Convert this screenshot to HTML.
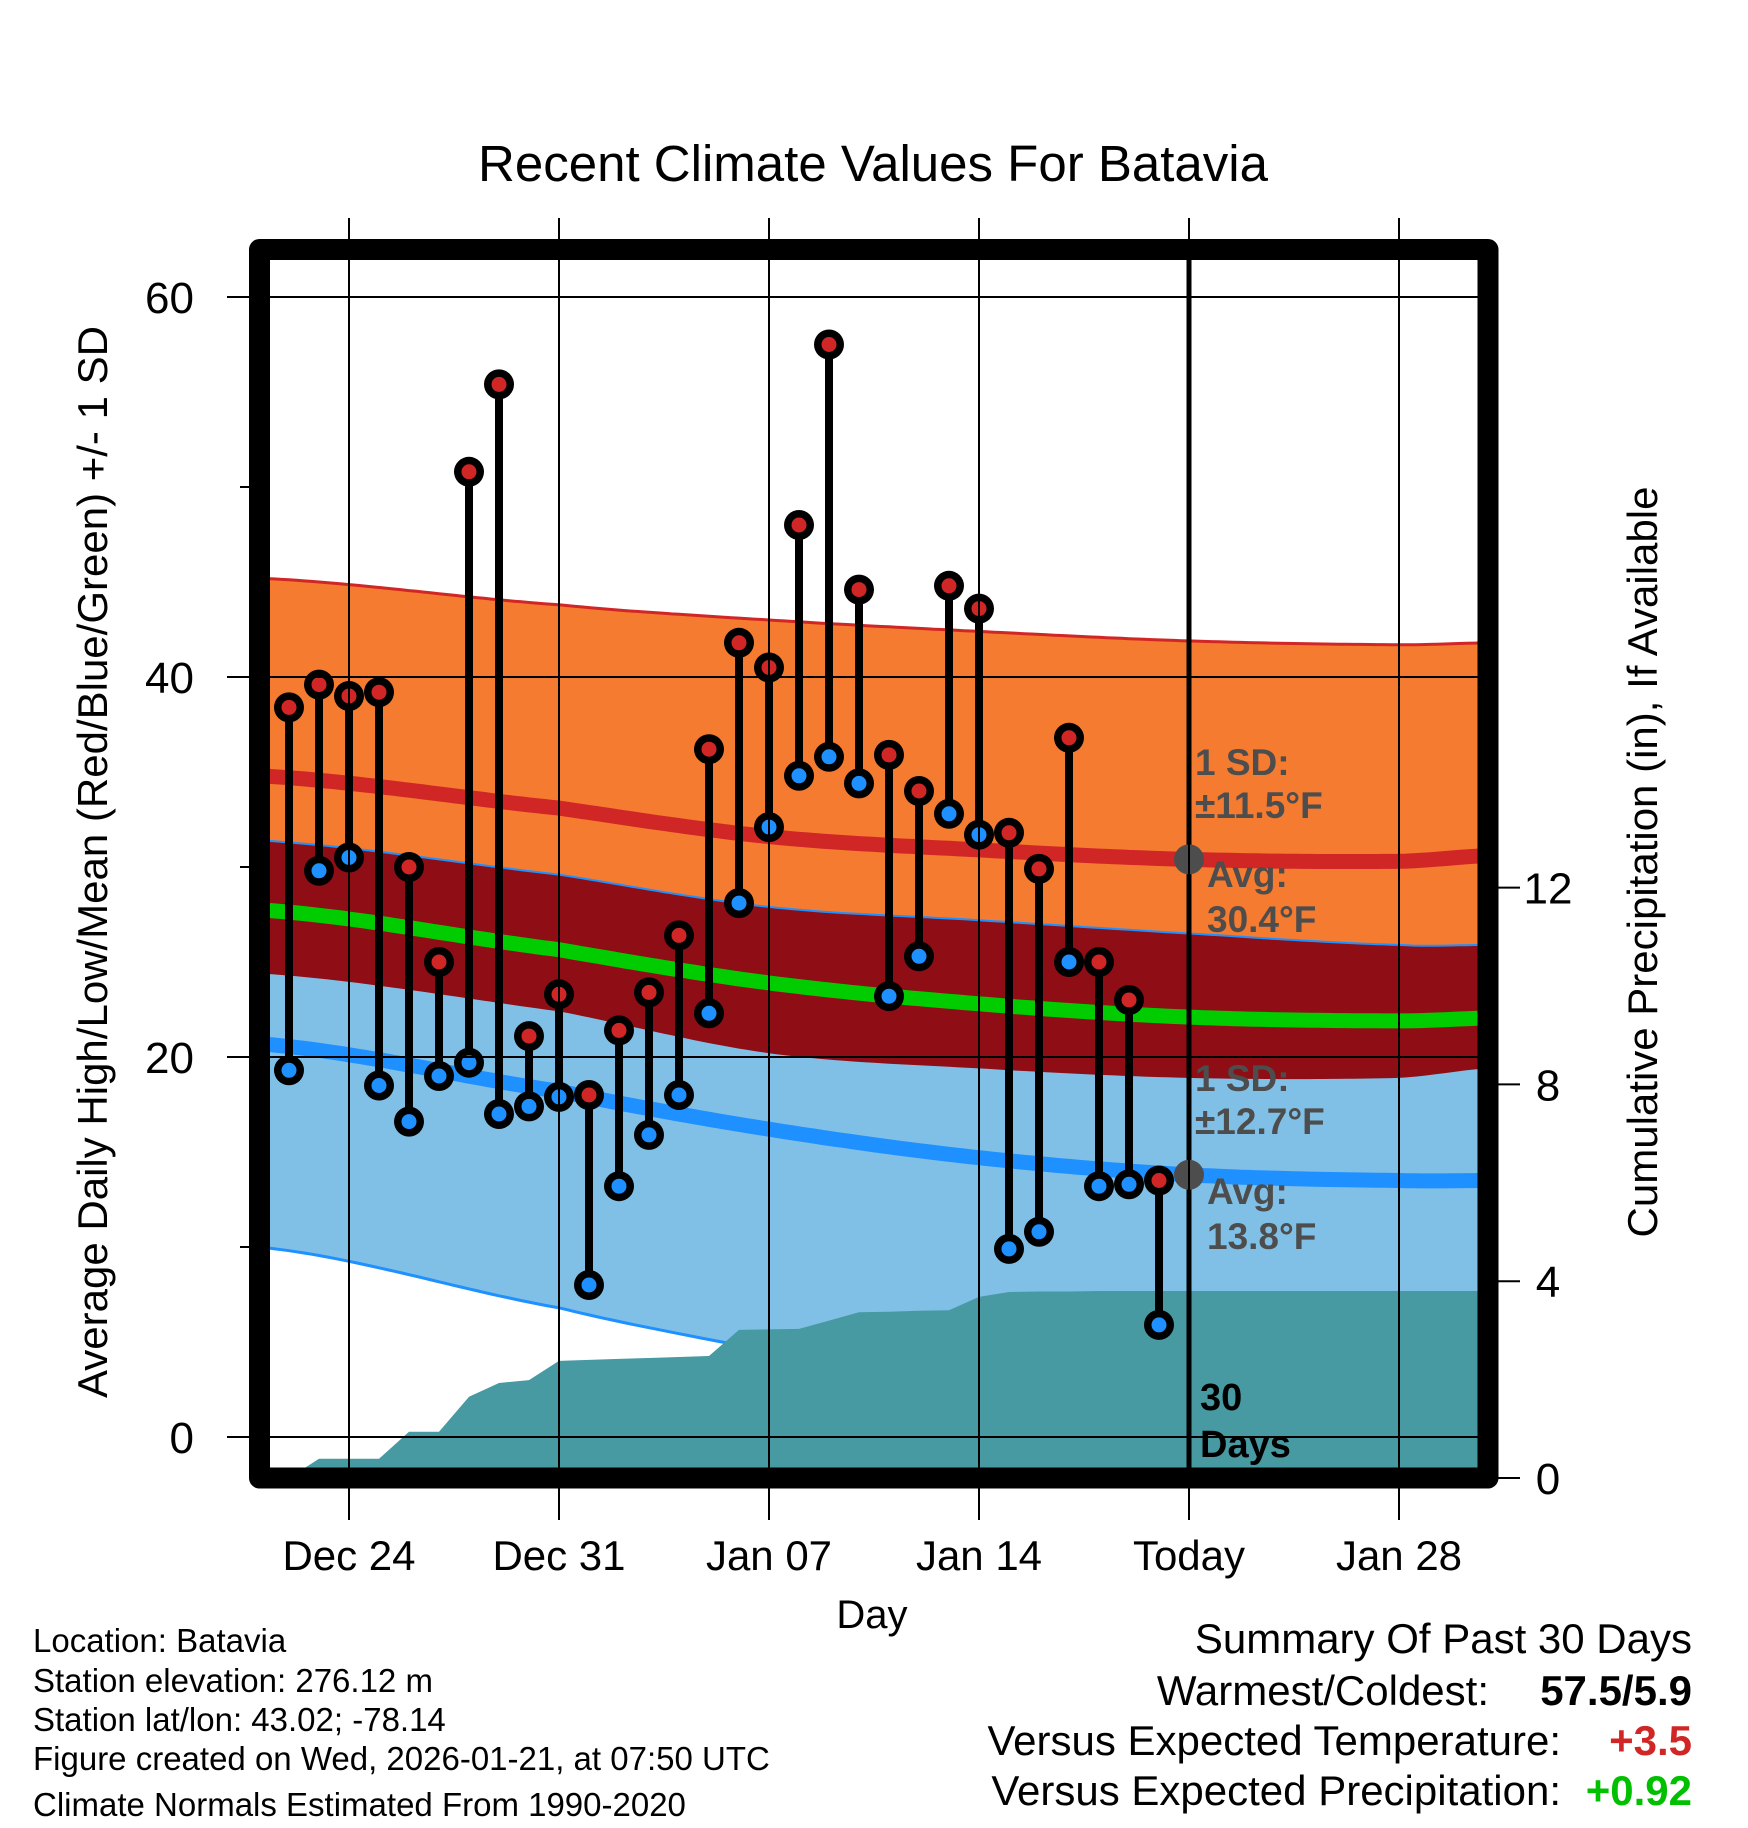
<!DOCTYPE html>
<html><head><meta charset="utf-8"><style>
html,body{margin:0;padding:0;background:#fff}
svg{display:block}
text{font-family:"Liberation Sans",Arial,sans-serif}
</style></head><body>
<svg id="chart" width="1748" height="1828" viewBox="0 0 1748 1828" xmlns="http://www.w3.org/2000/svg">
<defs><clipPath id="plotclip"><rect x="270" y="260" width="1208" height="1208"/></clipPath></defs>
<rect width="1748" height="1828" fill="#fff"/>
<text x="873" y="181" font-size="51" text-anchor="middle">Recent Climate Values For Batavia</text>
<g id="plot" clip-path="url(#plotclip)"></g>
<g id="over"></g>
<rect x="259.5" y="249.5" width="1228.5" height="1228.5" fill="none" stroke="#000" stroke-width="21" stroke-linejoin="round"/>
<g id="axes"></g>
<text transform="translate(107,862) rotate(-90)" font-size="42" text-anchor="middle">Average Daily High/Low/Mean (Red/Blue/Green) +/- 1 SD</text>
<text transform="translate(1657,862) rotate(-90)" font-size="42" text-anchor="middle">Cumulative Precipitation (in), If Available</text>
<text x="872" y="1628" font-size="40" text-anchor="middle">Day</text>
<g font-size="33">
<text x="33" y="1652">Location: Batavia</text>
<text x="33" y="1692">Station elevation: 276.12 m</text>
<text x="33" y="1731">Station lat/lon: 43.02; -78.14</text>
<text x="33" y="1770">Figure created on Wed, 2026-01-21, at 07:50 UTC</text>
<text x="33" y="1816">Climate Normals Estimated From 1990-2020</text>
</g>
<g font-size="42">
<text x="1692" y="1653" text-anchor="end">Summary Of Past 30 Days</text>
<text x="1489" y="1705" text-anchor="end">Warmest/Coldest:</text>
<text x="1692" y="1705" text-anchor="end" font-weight="bold">57.5/5.9</text>
<text x="1561" y="1755" text-anchor="end">Versus Expected Temperature:</text>
<text x="1692" y="1755" text-anchor="end" font-weight="bold" fill="#d02626">+3.5</text>
<text x="1561" y="1805" text-anchor="end">Versus Expected Precipitation:</text>
<text x="1692" y="1805" text-anchor="end" font-weight="bold" fill="#00c000">+0.92</text>
</g>
</svg>
<script>
// ---- data ----
const highs = [38.4,39.6,39.0,39.2,30.0,25.0,50.8,55.4,21.1,23.3,18.0,21.4,23.4,26.4,36.2,41.8,40.5,48.0,57.5,44.6,35.9,34.0,44.8,43.6,31.8,29.9,36.8,25.0,23.0,13.5];
const lows = [19.3,29.8,30.5,18.5,16.6,19.0,19.7,17.0,17.4,17.9,8.0,13.2,15.9,18.0,22.3,28.1,32.1,34.8,35.8,34.4,23.2,25.3,32.8,31.7,9.9,10.8,25.0,13.2,13.3,5.9];
const precip = [0,0.39,0.39,0.39,0.94,0.94,1.65,1.93,1.99,2.38,2.40,2.42,2.44,2.46,2.48,3.01,3.02,3.03,3.20,3.37,3.38,3.40,3.41,3.68,3.78,3.79,3.79,3.80,3.80,3.80];
const normDays = [-3,7,14,21,28,35,38];
const normHigh = [34.8,33.1,31.6,30.9,30.4,30.3,30.6];
const normLow = [20.7,18.2,16.2,14.7,13.8,13.5,13.5];
const sdHigh = [10.4,10.7,11.4,11.5,11.5,11.4,11.2];
const sdLow = [10.7,11.4,11.7,12.5,12.7,12.4,12.4];
const xTickLabels = ["Dec 24","Dec 31","Jan 07","Jan 14","Today","Jan 28"];
const yTicks = [0,20,40,60];
const pTicks = [0,4,8,12];
const firstDay = -2; // index 0 is Dec 22
// ---- axes ----
const X = d => 349 + 30*d;
const Y = v => 1437 - 19.0*v;
const YP = p => 1478 - 49.2*p;
const NS = "http://www.w3.org/2000/svg";
function mk(tag, attrs, parent){const e=document.createElementNS(NS,tag);for(const k in attrs)e.setAttribute(k,attrs[k]);parent.appendChild(e);return e;}
function interp(arr, d){
  let i=0; while(i<normDays.length-2 && d>normDays[i+1]) i++;
  const p0=arr[Math.max(i-1,0)],p1=arr[i],p2=arr[i+1],p3=arr[Math.min(i+2,arr.length-1)];
  const t=(d-normDays[i])/(normDays[i+1]-normDays[i]);
  return 0.5*((2*p1)+(-p0+p2)*t+(2*p0-5*p1+4*p2-p3)*t*t+(-p0+3*p1-3*p2+p3)*t*t*t);
}
const plot=document.getElementById('plot'), over=document.getElementById('over'), axes=document.getElementById('axes');
const samples=[]; for(let d=-3; d<=38.01; d+=0.25) samples.push(d);
const curve = f => samples.map(d=>[X(d),Y(f(d))]);
const pts = a => a.map(p=>p[0].toFixed(1)+","+p[1].toFixed(1)).join(" ");
const hiU=curve(d=>interp(normHigh,d)+interp(sdHigh,d));
const hiL=curve(d=>interp(normHigh,d)-interp(sdHigh,d));
const loU=curve(d=>interp(normLow,d)+interp(sdLow,d));
const loL=curve(d=>interp(normLow,d)-interp(sdLow,d));
const hiM=curve(d=>interp(normHigh,d));
const loM=curve(d=>interp(normLow,d));
const meM=curve(d=>(interp(normHigh,d)+interp(normLow,d))/2);
let e;
e=mk('polygon',{points:pts(hiU.concat(hiL.slice().reverse())),fill:'#f47b2f'},plot);


e=mk('polygon',{points:pts(loU.concat(loL.slice().reverse())),fill:'#80c0e6'},plot);


e=mk('polygon',{points:pts(loU.concat(hiL.slice().reverse())),fill:'#8f0d14'},plot);


e=mk('polyline',{points:pts(hiU),fill:'none',stroke:'#d02626','stroke-width':3},plot);


e=mk('polyline',{points:pts(loU),fill:'none',stroke:'#1e90ff','stroke-width':2},plot);


e=mk('polyline',{points:pts(loL),fill:'none',stroke:'#1e90ff','stroke-width':3},plot);


e=mk('polyline',{points:pts(hiM),fill:'none',stroke:'#d02626','stroke-width':15},plot);


e=mk('polyline',{points:pts(loM),fill:'none',stroke:'#1e90ff','stroke-width':15},plot);


e=mk('polyline',{points:pts(meM),fill:'none',stroke:'#00cc00','stroke-width':15},plot);


// gridlines / ticks
yTicks.forEach(v=>{
  e=mk('line',{x1:227,x2:1478,y1:Y(v),y2:Y(v),stroke:'#000','stroke-width':2},axes);
  
  
  e=mk('text',{x:194,y:Y(v)+16,'font-size':44,'text-anchor':'end'},axes); e.textContent=v;
  
  
});
[10,30,50].forEach(v=>{
  e=mk('line',{x1:240,x2:260,y1:Y(v),y2:Y(v),stroke:'#000','stroke-width':2},axes);
  
  
});
xTickLabels.forEach((lab,i)=>{
  const x=X(i*7);
  e=mk('line',{x1:x,x2:x,y1:218,y2:1520,stroke:'#000','stroke-width':2},axes);
  
  
  e=mk('text',{x:x,y:1570,'font-size':42,'text-anchor':'middle'},axes); e.textContent=lab;
  
  
});
pTicks.forEach(p=>{
  e=mk('line',{x1:1488,x2:1520,y1:YP(p),y2:YP(p),stroke:'#000','stroke-width':2},axes);
  
  
  e=mk('text',{x:1548,y:YP(p)+16,'font-size':44,'text-anchor':'middle'},axes); e.textContent=p;
  
  
});
yTicks.forEach(v=>{e=mk('line',{x1:270,x2:1478,y1:Y(v),y2:Y(v),stroke:'#000','stroke-width':1.5},plot);
  
  });
xTickLabels.forEach((lab,i)=>{e=mk('line',{x1:X(i*7),x2:X(i*7),y1:260,y2:1468,stroke:'#000','stroke-width':1.5},plot);
  
  });
// precip area
const pp=precip.map((p,i)=>[X(firstDay+i),YP(p)]);
pp.push([1480,YP(precip[precip.length-1])]);
const area=pp.concat([[1480,1480],[X(firstDay),1480]]);
e=mk('polygon',{points:pts(area),fill:'#4799a2'},plot);


// today line
e=mk('line',{x1:X(28),x2:X(28),y1:250,y2:1478,stroke:'#000','stroke-width':5},over);


// stems & dots
highs.forEach((h,i)=>{
  const x=X(firstDay+i);
  e=mk('line',{x1:x,x2:x,y1:Y(h),y2:Y(lows[i]),stroke:'#000','stroke-width':8},over);
  
  
});
highs.forEach((h,i)=>{
  const x=X(firstDay+i);
  [[h,'#d02626','high-point'],[lows[i],'#1e90ff','low-point']].forEach(([v,c,n])=>{
    e=mk('circle',{cx:x,cy:Y(v),r:15,fill:'#000'},over);
    
    
    e=mk('circle',{cx:x,cy:Y(v),r:7.5,fill:c},over);
    
    
  });
});
// today markers
[interp(normHigh,28),interp(normLow,28)].forEach(v=>{
  e=mk('circle',{cx:X(28),cy:Y(v),r:15,fill:'#4d4d4d'},over);
  
  
});
const ann=[["1 SD:",1195,775],["\u00b111.5\u00b0F",1195,818],["Avg:",1207,887],["30.4\u00b0F",1207,932],
           ["1 SD:",1195,1091],["\u00b112.7\u00b0F",1195,1134],["Avg:",1207,1204],["13.8\u00b0F",1207,1249]];
ann.forEach(a=>{
  e=mk('text',{x:a[1],y:a[2],'font-size':37,'font-weight':'bold',fill:'#4d4d4d'},over); e.textContent=a[0];
  
  
});
[["30",1410],["Days",1457]].forEach(a=>{
  e=mk('text',{x:1200,y:a[1],'font-size':38,'font-weight':'bold',fill:'#000'},over); e.textContent=a[0];
  
  
});
</script>
</body></html>
